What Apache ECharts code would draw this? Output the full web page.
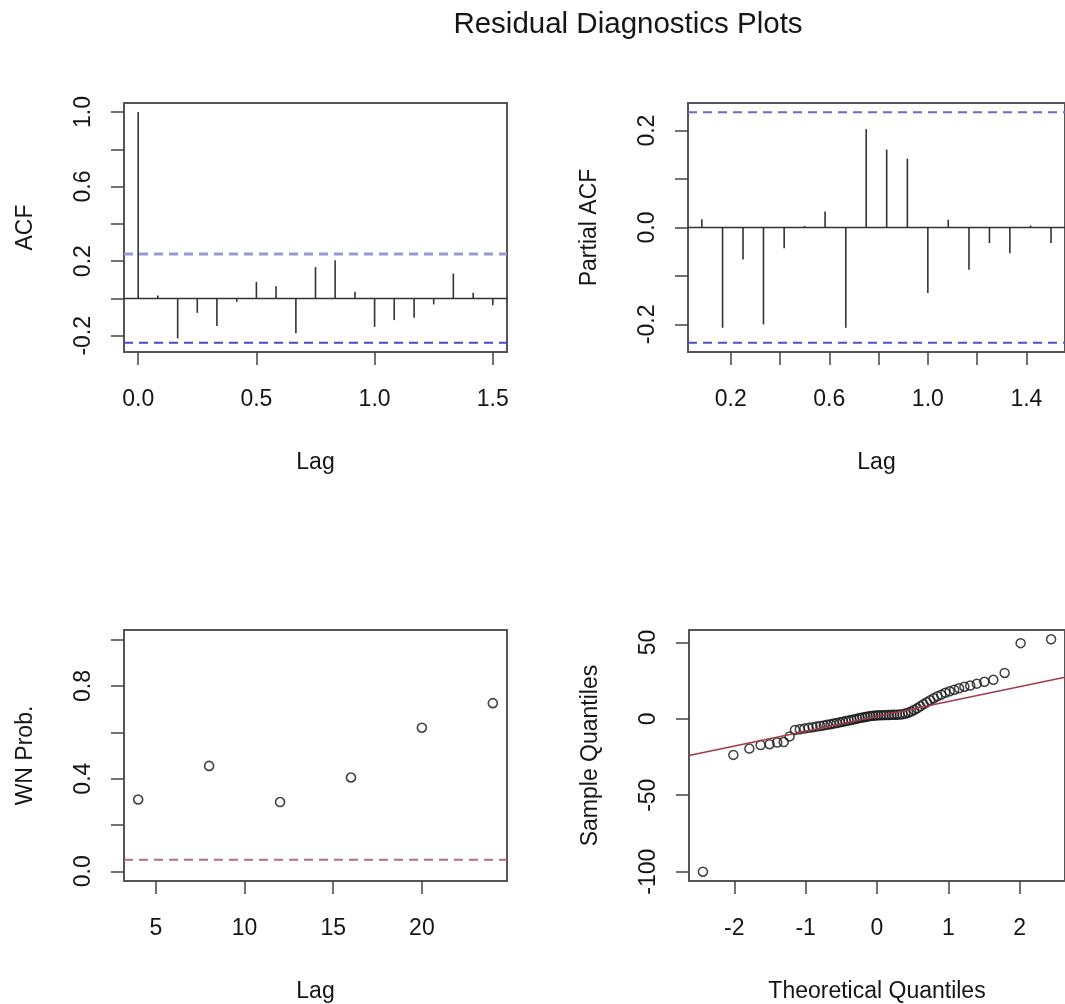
<!DOCTYPE html>
<html>
<head>
<meta charset="utf-8">
<script src="https://cdn.jsdelivr.net/npm/echarts@6/dist/echarts.min.js"></script>
<style>
  html, body { margin: 0; padding: 0; background: #fff; }
  #chart { width: 1065px; height: 1004px; }
</style>
</head>
<body>
<div id="chart"></div>
<script>
// ---------------- data ----------------
const acfLag = [0, 0.083, 0.167, 0.25, 0.333, 0.417, 0.5, 0.583, 0.667, 0.75, 0.833, 0.917, 1.0, 1.083, 1.167, 1.25, 1.333, 1.417, 1.5];
const acfValues = [1.0, 0.016, -0.214, -0.077, -0.148, -0.018, 0.089, 0.066, -0.186, 0.168, 0.205, 0.036, -0.152, -0.116, -0.104, -0.032, 0.134, 0.030, -0.036];

const pacfLag = [0.083, 0.167, 0.25, 0.333, 0.417, 0.5, 0.583, 0.667, 0.75, 0.833, 0.917, 1.0, 1.083, 1.167, 1.25, 1.333, 1.417, 1.5];
const pacfValues = [0.017, -0.207, -0.066, -0.200, -0.043, 0.003, 0.033, -0.207, 0.203, 0.161, 0.142, -0.135, 0.016, -0.087, -0.032, -0.053, 0.004, -0.032];

const ciBound = 0.238;

const wnLag = [4, 8, 12, 16, 20, 24];
const wnProb = [0.310, 0.455, 0.299, 0.405, 0.620, 0.726];
const wnLevel = 0.05;

const qqTheoretical = [-2.440, -2.013, -1.789, -1.631, -1.505, -1.399, -1.307, -1.225, -1.150, -1.082, -1.018, -0.958, -0.901, -0.847, -0.795, -0.745, -0.698, -0.651, -0.607, -0.563, -0.520, -0.478, -0.437, -0.397, -0.357, -0.319, -0.280, -0.242, -0.204, -0.167, -0.130, -0.092, -0.055, -0.018,
  0.018, 0.055, 0.092, 0.130, 0.167, 0.204, 0.242, 0.280, 0.319, 0.357, 0.397, 0.437, 0.478, 0.520, 0.563, 0.607, 0.651, 0.698, 0.745, 0.795, 0.847, 0.901, 0.958, 1.018, 1.082, 1.150, 1.225, 1.307, 1.399, 1.505, 1.631, 1.789, 2.013, 2.440];
const qqSample = [-100, -23.6, -19.5, -17.2, -16.6, -15.5, -15.2, -11.5, -7.3, -6.8, -6.3, -5.9, -5.5, -5.1, -4.7, -4.3, -3.9, -3.5, -3.1, -2.7, -2.3, -1.9, -1.5, -1.1, -0.7, -0.3, 0.1, 0.5, 0.9, 1.2, 1.5, 1.8, 2.0, 2.2,
  2.3, 2.4, 2.4, 2.5, 2.5, 2.6, 2.6, 2.7, 2.8, 3.0, 3.4, 4.0, 4.8, 5.8, 6.9, 8.2, 9.5, 10.8, 12.2, 13.5, 14.8, 15.8, 17.0, 18.0, 19.0, 20.0, 21.0, 21.8, 23.0, 24.2, 25.5, 30.0, 49.5, 52.0];
const qqLineIntercept = 1.6;
const qqLineSlope = 9.7;

// tick values / labels
const acfXTicks = [0, 0.5, 1.0, 1.5];
const acfYTicks = [-0.2, 0, 0.2, 0.4, 0.6, 0.8, 1.0];
const acfYLabels = [-0.2, 0.2, 0.6, 1.0];
const pacfXTicks = [0.2, 0.4, 0.6, 0.8, 1.0, 1.2, 1.4];
const pacfXLabels = [0.2, 0.6, 1.0, 1.4];
const pacfYTicks = [-0.2, -0.1, 0, 0.1, 0.2];
const pacfYLabels = [-0.2, 0, 0.2];
const wnXTicks = [5, 10, 15, 20];
const wnYTicks = [0, 0.2, 0.4, 0.6, 0.8, 1.0];
const wnYLabels = [0, 0.4, 0.8];
const qqXTicks = [-2, -1, 0, 1, 2];
const qqYTicks = [-100, -50, 0, 50];

// axis limits (R style, 4% extension)
const lim = {
  acfX: [-0.06, 1.56], acfY: [-0.287, 1.048],
  pacfX: [0.0267, 1.5567], pacfY: [-0.257, 0.257],
  wnX: [3.2, 24.8], wnY: [-0.042, 1.042],
  qqX: [-2.635, 2.635], qqY: [-106.1, 58.1]
};

// ---------------- styling ----------------
const FONT = '"Liberation Sans", Arial, Helvetica, sans-serif';
const TXT = '#151515';
const f1 = v => v.toFixed(1);
const f0 = v => String(Math.round(v));

function xAxis(grid, l, ticks, labels, fmt, name) {
  return {
    type: 'value', gridIndex: grid, min: l[0], max: l[1], position: 'bottom',
    name: name, nameLocation: 'middle', nameGap: 99,
    nameTextStyle: { fontFamily: FONT, fontSize: 23, color: TXT },
    axisLine: { show: false, onZero: false },
    axisTick: { show: true, customValues: ticks, length: 13, lineStyle: { color: '#444', width: 1.5 } },
    axisLabel: { customValues: labels, margin: 36, fontFamily: FONT, fontSize: 23, color: TXT, formatter: fmt },
    splitLine: { show: false }
  };
}
function yAxis(grid, l, ticks, labels, fmt, name) {
  return {
    type: 'value', gridIndex: grid, min: l[0], max: l[1], position: 'left',
    name: name, nameLocation: 'middle', nameGap: 87,
    nameTextStyle: { fontFamily: FONT, fontSize: 23, color: TXT },
    axisLine: { show: false, onZero: false },
    axisTick: { show: true, customValues: ticks, length: 13, lineStyle: { color: '#444', width: 1.5 } },
    axisLabel: { customValues: labels, rotate: 90, margin: 29, fontFamily: FONT, fontSize: 23, color: TXT, formatter: fmt },
    splitLine: { show: false }
  };
}
function gridBox(left, top, width, height) {
  return { left, top, width, height, show: true, borderColor: '#555', borderWidth: 2, backgroundColor: 'transparent' };
}
function spikes(idx, lags, vals) {
  return {
    type: 'custom', xAxisIndex: idx, yAxisIndex: idx, silent: true,
    data: lags.map((l, i) => [l, vals[i]]),
    renderItem: function (params, api) {
      const p0 = api.coord([api.value(0), 0]);
      const p1 = api.coord([api.value(0), api.value(1)]);
      return { type: 'line', shape: { x1: p0[0], y1: p0[1], x2: p1[0], y2: p1[1] },
        style: { stroke: '#333', lineWidth: 1.6 } };
    }
  };
}
function hline(idx, xl, y, color, width, dashed) {
  return {
    type: 'line', xAxisIndex: idx, yAxisIndex: idx, silent: true, showSymbol: false, symbol: 'none',
    data: [[xl[0], y], [xl[1], y]],
    lineStyle: { color: color, width: width, type: dashed ? [9, 6] : 'solid' },
    z: 1
  };
}

const option = {
  backgroundColor: '#fff',
  animation: false,
  title: {
    text: 'Residual Diagnostics Plots', left: 623, top: 5, textAlign: 'center',
    textStyle: { fontFamily: FONT, fontSize: 29.5, fontWeight: 'normal', color: TXT }
  },
  grid: [
    gridBox(124, 103, 383, 249),
    gridBox(688, 103, 380, 249),
    gridBox(124, 630, 383, 251),
    gridBox(689, 630, 379, 251)
  ],
  xAxis: [
    xAxis(0, lim.acfX, acfXTicks, acfXTicks, f1, 'Lag'),
    xAxis(1, lim.pacfX, pacfXTicks, pacfXLabels, f1, 'Lag'),
    xAxis(2, lim.wnX, wnXTicks, wnXTicks, f0, 'Lag'),
    xAxis(3, lim.qqX, qqXTicks, qqXTicks, f0, 'Theoretical Quantiles')
  ],
  yAxis: [
    yAxis(0, lim.acfY, acfYTicks, acfYLabels, f1, 'ACF'),
    yAxis(1, lim.pacfY, pacfYTicks, pacfYLabels, f1, 'Partial ACF'),
    yAxis(2, lim.wnY, wnYTicks, wnYLabels, f1, 'WN Prob.'),
    yAxis(3, lim.qqY, qqYTicks, qqYTicks, f0, 'Sample Quantiles')
  ],
  series: [
    // ACF
    hline(0, lim.acfX, 0, '#333', 1.6, false),
    hline(0, lim.acfX, ciBound, '#9a9ad2', 3, true),
    hline(0, lim.acfX, -ciBound, '#4a4ac4', 2, true),
    spikes(0, acfLag, acfValues),
    // PACF
    hline(1, lim.pacfX, 0, '#333', 1.6, false),
    hline(1, lim.pacfX, ciBound, '#6a6ac8', 2, true),
    hline(1, lim.pacfX, -ciBound, '#5050c0', 2, true),
    spikes(1, pacfLag, pacfValues),
    // WN prob
    hline(2, lim.wnX, wnLevel, '#b0707c', 2, true),
    {
      type: 'scatter', xAxisIndex: 2, yAxisIndex: 2, silent: true,
      data: wnLag.map((l, i) => [l, wnProb[i]]),
      symbol: 'circle', symbolSize: 9,
      itemStyle: { color: 'rgba(0,0,0,0)', borderColor: '#111', borderWidth: 1.6 }
    },
    // QQ
    {
      type: 'scatter', xAxisIndex: 3, yAxisIndex: 3, silent: true,
      data: qqTheoretical.map((q, i) => [q, qqSample[i]]),
      symbol: 'circle', symbolSize: 9,
      itemStyle: { color: 'rgba(0,0,0,0)', borderColor: '#111', borderWidth: 1.5 }
    },
    {
      type: 'line', xAxisIndex: 3, yAxisIndex: 3, silent: true, showSymbol: false, symbol: 'none',
      data: lim.qqX.map(q => [q, qqLineIntercept + qqLineSlope * q]),
      lineStyle: { color: '#a03a4a', width: 1.6 }, z: 3
    }
  ]
};

const chart = echarts.init(document.getElementById('chart'), null, { renderer: 'canvas' });
chart.setOption(option);
</script>
</body>
</html>
